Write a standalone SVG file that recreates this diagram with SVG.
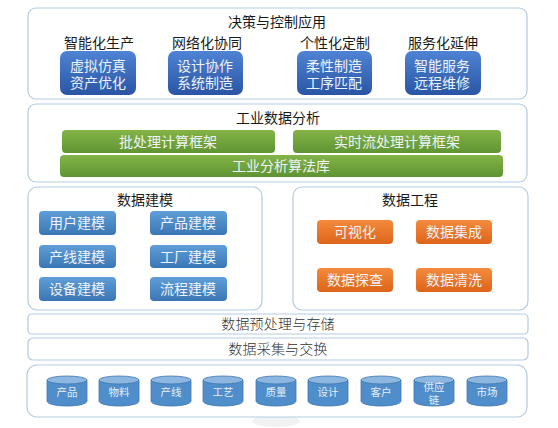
<svg xmlns="http://www.w3.org/2000/svg" width="558" height="428" viewBox="0 0 558 428">
<style>
text{font-family:"Noto Sans CJK SC","Liberation Sans",sans-serif;font-size:14px;text-anchor:middle}
.panel{fill:#fff;stroke:#b4cbe2;stroke-width:1.2}
.t{fill:#1a1a1a}
.w{fill:#eef3f8}
.s{fill:#333;font-weight:300;letter-spacing:.2px}
.c{font-size:10.5px;fill:#e6eef6;font-weight:400}
.side{fill:#4f8ecb;stroke:#3f76ac;stroke-width:.8}
.top{fill:#8db7e0;stroke:#3f76ac;stroke-width:.8}
</style>
<defs>
<linearGradient id="gb" x1="0" y1="0" x2="0" y2="1"><stop offset="0" stop-color="#4f83d4"/><stop offset="1" stop-color="#2a55a4"/></linearGradient>
<linearGradient id="gg" x1="0" y1="0" x2="0" y2="1"><stop offset="0" stop-color="#84b448"/><stop offset="1" stop-color="#5f9432"/></linearGradient>
<linearGradient id="gl" x1="0" y1="0" x2="0" y2="1"><stop offset="0" stop-color="#5f9ed8"/><stop offset="1" stop-color="#3a76b4"/></linearGradient>
<linearGradient id="go" x1="0" y1="0" x2="0" y2="1"><stop offset="0" stop-color="#f58a3e"/><stop offset="1" stop-color="#dc6418"/></linearGradient>
<g id="cyl"><path class="side" d="M0 5V26C0 29 9 31 20 31S40 29 40 26V5Z"/><ellipse class="top" cx="20" cy="5" rx="20" ry="4"/></g>
</defs>
<rect width="558" height="428" fill="#fff"/>
<ellipse cx="276" cy="421" rx="24" ry="6" fill="#f1f1f1"/>
<g id="connectors"/>
<g id="decision">
<rect class="panel" x="28" y="8" width="499" height="91" rx="8"/>
<text class="t" x="277" y="27">决策与控制应用</text>
<text class="t" x="99" y="48">智能化生产</text>
<text class="t" x="207" y="48">网络化协同</text>
<text class="t" x="335" y="48">个性化定制</text>
<text class="t" x="443" y="48">服务化延伸</text>
</g>
<g id="n-smart"><rect x="60" y="51" width="76" height="44" rx="7" fill="url(#gb)"/><text class="w" x="98" y="71">虚拟仿真<tspan x="98" dy="17">资产优化</tspan></text></g>
<g id="n-network"><rect x="168" y="51" width="75" height="44" rx="7" fill="url(#gb)"/><text class="w" x="205" y="71">设计协作<tspan x="205" dy="17">系统制造</tspan></text></g>
<g id="n-custom"><rect x="297" y="51" width="75" height="44" rx="7" fill="url(#gb)"/><text class="w" x="334" y="71">柔性制造<tspan x="334" dy="17">工序匹配</tspan></text></g>
<g id="n-service"><rect x="405" y="51" width="76" height="44" rx="7" fill="url(#gb)"/><text class="w" x="442" y="71">智能服务<tspan x="442" dy="17">远程维修</tspan></text></g>
<g id="analysis">
<rect class="panel" x="28" y="104" width="499" height="78" rx="8"/>
<text class="t" x="278" y="123">工业数据分析</text>
</g>
<g id="n-batch"><rect x="62" y="130" width="213" height="23" rx="4" fill="url(#gg)"/><text class="w" x="168" y="147">批处理计算框架</text></g>
<g id="n-stream"><rect x="293" y="130" width="208" height="23" rx="4" fill="url(#gg)"/><text class="w" x="397" y="147">实时流处理计算框架</text></g>
<g id="n-algo"><rect x="60" y="155" width="443" height="22" rx="4" fill="url(#gg)"/><text class="w" x="281" y="171">工业分析算法库</text></g>
<g id="modeling">
<rect class="panel" x="28" y="187" width="234" height="123" rx="9"/>
<text class="t" x="145" y="205">数据建模</text>
</g>
<g id="n-user"><rect x="39" y="211" width="77" height="24" rx="4" fill="url(#gl)"/><text class="w" x="77" y="228">用户建模</text></g>
<g id="n-product"><rect x="150" y="211" width="77" height="24" rx="4" fill="url(#gl)"/><text class="w" x="188" y="228">产品建模</text></g>
<g id="n-line"><rect x="39" y="245" width="77" height="23" rx="4" fill="url(#gl)"/><text class="w" x="77" y="262">产线建模</text></g>
<g id="n-factory"><rect x="150" y="245" width="77" height="23" rx="4" fill="url(#gl)"/><text class="w" x="188" y="262">工厂建模</text></g>
<g id="n-device"><rect x="39" y="277" width="77" height="24" rx="4" fill="url(#gl)"/><text class="w" x="77" y="294">设备建模</text></g>
<g id="n-flow"><rect x="150" y="277" width="77" height="24" rx="4" fill="url(#gl)"/><text class="w" x="188" y="294">流程建模</text></g>
<g id="engineering">
<rect class="panel" x="293" y="187" width="235" height="123" rx="9"/>
<text class="t" x="410" y="205">数据工程</text>
</g>
<g id="n-vis"><rect x="317" y="220" width="76" height="24" rx="4" fill="url(#go)"/><text class="w" x="355" y="237">可视化</text></g>
<g id="n-integ"><rect x="416" y="220" width="76" height="24" rx="4" fill="url(#go)"/><text class="w" x="454" y="237">数据集成</text></g>
<g id="n-explore"><rect x="317" y="268" width="76" height="24" rx="4" fill="url(#go)"/><text class="w" x="355" y="285">数据探查</text></g>
<g id="n-clean"><rect x="416" y="268" width="76" height="24" rx="4" fill="url(#go)"/><text class="w" x="454" y="285">数据清洗</text></g>
<g id="preprocess"><rect class="panel" x="28" y="314" width="500" height="20" rx="4"/><text class="s" x="278" y="329">数据预处理与存储</text></g>
<g id="collect"><rect class="panel" x="28" y="338" width="500" height="22" rx="5"/><text class="s" x="278" y="354">数据采集与交换</text></g>
<g id="sources"><rect class="panel" x="27" y="365" width="500" height="52" rx="10"/></g>
<g id="s1"><use href="#cyl" x="47" y="375"/><text class="c" x="67" y="396">产品</text></g>
<g id="s2"><use href="#cyl" x="99" y="375"/><text class="c" x="119" y="396">物料</text></g>
<g id="s3"><use href="#cyl" x="151" y="375"/><text class="c" x="171" y="396">产线</text></g>
<g id="s4"><use href="#cyl" x="203" y="375"/><text class="c" x="223" y="396">工艺</text></g>
<g id="s5"><use href="#cyl" x="256" y="375"/><text class="c" x="276" y="396">质量</text></g>
<g id="s6"><use href="#cyl" x="308" y="375"/><text class="c" x="328" y="396">设计</text></g>
<g id="s7"><use href="#cyl" x="361" y="375"/><text class="c" x="381" y="396">客户</text></g>
<g id="s8"><use href="#cyl" x="414" y="375"/><text class="c" x="434" y="391">供应<tspan x="434" dy="13">链</tspan></text></g>
<g id="s9"><use href="#cyl" x="467" y="375"/><text class="c" x="487" y="396">市场</text></g>
</svg>
